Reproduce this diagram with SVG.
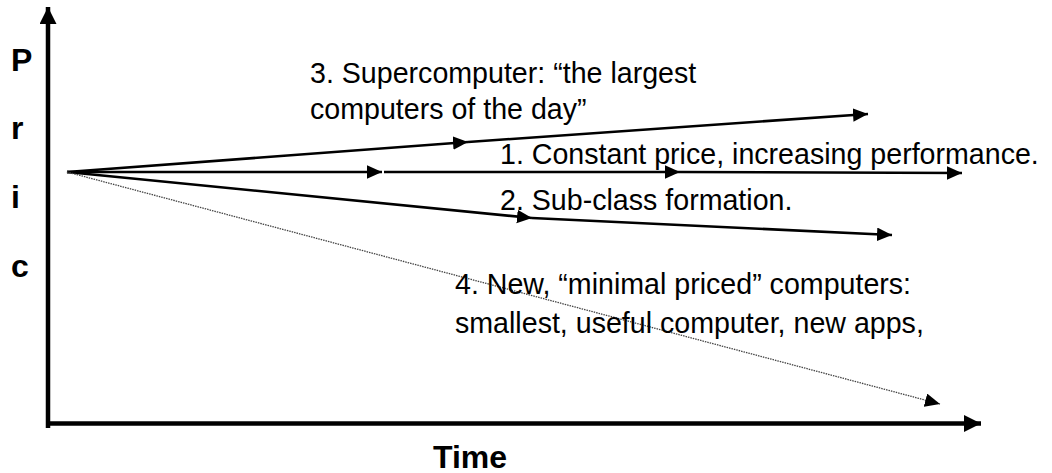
<svg xmlns="http://www.w3.org/2000/svg" width="1052" height="473" viewBox="0 0 1052 473">
<style>
.lbl{font-family:"Liberation Sans",Arial,sans-serif;font-size:28.6px;fill:#000}
.ax{font-family:"Liberation Sans",Arial,sans-serif;font-size:32px;font-weight:bold;fill:#000}
.axis{stroke:#000;stroke-width:4.5;fill:none}
.conn{stroke:#000;stroke-width:2.6;fill:none}
.dot{stroke:#444;stroke-width:1.3;stroke-dasharray:1.5 1;fill:none}
</style>
<defs>
<marker id="big" markerUnits="userSpaceOnUse" markerWidth="18" markerHeight="18" refX="17" refY="8.5" orient="auto">
<path d="M0,0 L17,8.5 L0,17 z" fill="#000"/>
</marker>
<marker id="arr" markerUnits="userSpaceOnUse" markerWidth="16" markerHeight="14" refX="15" refY="6.75" orient="auto">
<path d="M0,0 L15,6.75 L0,13.5 z" fill="#000"/>
</marker>
</defs>
<rect width="1052" height="473" fill="#fff"/>
<g id="axes">
<line class="axis" x1="48" y1="428" x2="48" y2="7" marker-end="url(#big)"/>
<line class="axis" x1="46" y1="423.5" x2="981" y2="423.5" marker-end="url(#big)"/>
</g>
<g id="axis-labels">
<text class="ax" x="11" y="71">P</text>
<text class="ax" x="11" y="139">r</text>
<text class="ax" x="11" y="208">i</text>
<text class="ax" x="11" y="277">c</text>
<text class="ax" x="470" y="468" text-anchor="middle">Time</text>
</g>
<g id="connectors">
<line class="conn" x1="67" y1="172" x2="468" y2="142" marker-end="url(#arr)"/>
<line class="conn" x1="468" y1="142" x2="868" y2="114" marker-end="url(#arr)"/>
<line class="conn" x1="67" y1="172" x2="382" y2="172" marker-end="url(#arr)"/>
<line class="conn" x1="384" y1="172" x2="680" y2="172" marker-end="url(#arr)"/>
<line class="conn" x1="680" y1="172" x2="962" y2="173" marker-end="url(#arr)"/>
<line class="conn" x1="67" y1="172" x2="532" y2="218" marker-end="url(#arr)"/>
<line class="conn" x1="532" y1="218" x2="892" y2="235" marker-end="url(#arr)"/>
<line class="dot" x1="67" y1="172" x2="940" y2="404" marker-end="url(#arr)"/>
</g>
<g id="node-3">
<text class="lbl" x="310" y="83">3. Supercomputer: “the largest</text>
<text class="lbl" x="310" y="119">computers of the day”</text>
</g>
<g id="node-1">
<text class="lbl" x="500" y="164">1. Constant price, increasing performance.</text>
</g>
<g id="node-2">
<text class="lbl" x="500" y="210">2. Sub-class formation.</text>
</g>
<g id="node-4">
<text class="lbl" x="455" y="294">4. New, “minimal priced” computers:</text>
<text class="lbl" x="455" y="333">smallest, useful computer, new apps,</text>
</g>
</svg>
